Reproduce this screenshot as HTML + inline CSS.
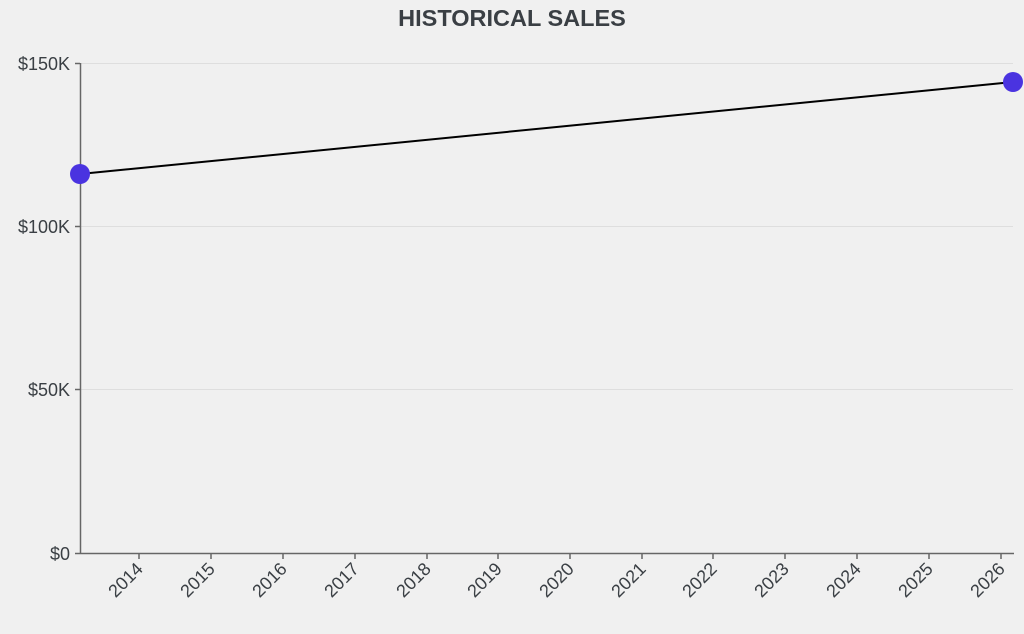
<!DOCTYPE html>
<html><head><style>
html,body{margin:0;padding:0;background:#f0f0f0;}
svg{display:block;font-family:"Liberation Sans",sans-serif;}
</style></head><body>
<svg width="1024" height="634" viewBox="0 0 1024 634">
<rect width="1024" height="634" fill="#f0f0f0"/>
<text x="512" y="26" text-anchor="middle" font-size="23.5" font-weight="bold" fill="#3a3f44">HISTORICAL SALES</text>
<g stroke="#dedede" stroke-width="1">
<line x1="80" y1="63.5" x2="1013" y2="63.5"/>
<line x1="80" y1="226.5" x2="1013" y2="226.5"/>
<line x1="80" y1="389.5" x2="1013" y2="389.5"/>
</g>
<g stroke="#666" stroke-width="1.5" fill="none">
<line x1="80.5" y1="63" x2="80.5" y2="554"/>
<line x1="80" y1="553.5" x2="1014" y2="553.5"/>
<line x1="75" y1="63.5" x2="80" y2="63.5"/>
<line x1="75" y1="226.5" x2="80" y2="226.5"/>
<line x1="75" y1="389.5" x2="80" y2="389.5"/>
<line x1="75" y1="553.5" x2="80" y2="553.5"/>
</g>
<g font-size="18" fill="#3a3f44" text-anchor="end">
<text x="70" y="70">$150K</text>
<text x="70" y="233">$100K</text>
<text x="70" y="396">$50K</text>
<text x="70" y="560">$0</text>
</g>
<g stroke="#666" stroke-width="1.5">
<line x1="139" y1="553" x2="139" y2="559"/><line x1="211" y1="553" x2="211" y2="559"/>
<line x1="283" y1="553" x2="283" y2="559"/><line x1="355" y1="553" x2="355" y2="559"/>
<line x1="427" y1="553" x2="427" y2="559"/><line x1="498" y1="553" x2="498" y2="559"/>
<line x1="570" y1="553" x2="570" y2="559"/><line x1="642" y1="553" x2="642" y2="559"/>
<line x1="713" y1="553" x2="713" y2="559"/><line x1="785" y1="553" x2="785" y2="559"/>
<line x1="857" y1="553" x2="857" y2="559"/><line x1="929" y1="553" x2="929" y2="559"/>
<line x1="1001" y1="553" x2="1001" y2="559"/>
</g>
<g font-size="18" fill="#3a3f44" text-anchor="end">
<text transform="translate(144,570) rotate(-45)">2014</text>
<text transform="translate(216,570) rotate(-45)">2015</text>
<text transform="translate(288,570) rotate(-45)">2016</text>
<text transform="translate(360,570) rotate(-45)">2017</text>
<text transform="translate(432,570) rotate(-45)">2018</text>
<text transform="translate(503,570) rotate(-45)">2019</text>
<text transform="translate(575,570) rotate(-45)">2020</text>
<text transform="translate(647,570) rotate(-45)">2021</text>
<text transform="translate(718,570) rotate(-45)">2022</text>
<text transform="translate(790,570) rotate(-45)">2023</text>
<text transform="translate(862,570) rotate(-45)">2024</text>
<text transform="translate(934,570) rotate(-45)">2025</text>
<text transform="translate(1006,570) rotate(-45)">2026</text>
</g>
<line x1="80" y1="174" x2="1013" y2="82" stroke="#000" stroke-width="2"/>
<circle cx="80" cy="174" r="10" fill="#4a33e0"/>
<circle cx="1013" cy="82" r="10" fill="#4a33e0"/>
</svg>
</body></html>
